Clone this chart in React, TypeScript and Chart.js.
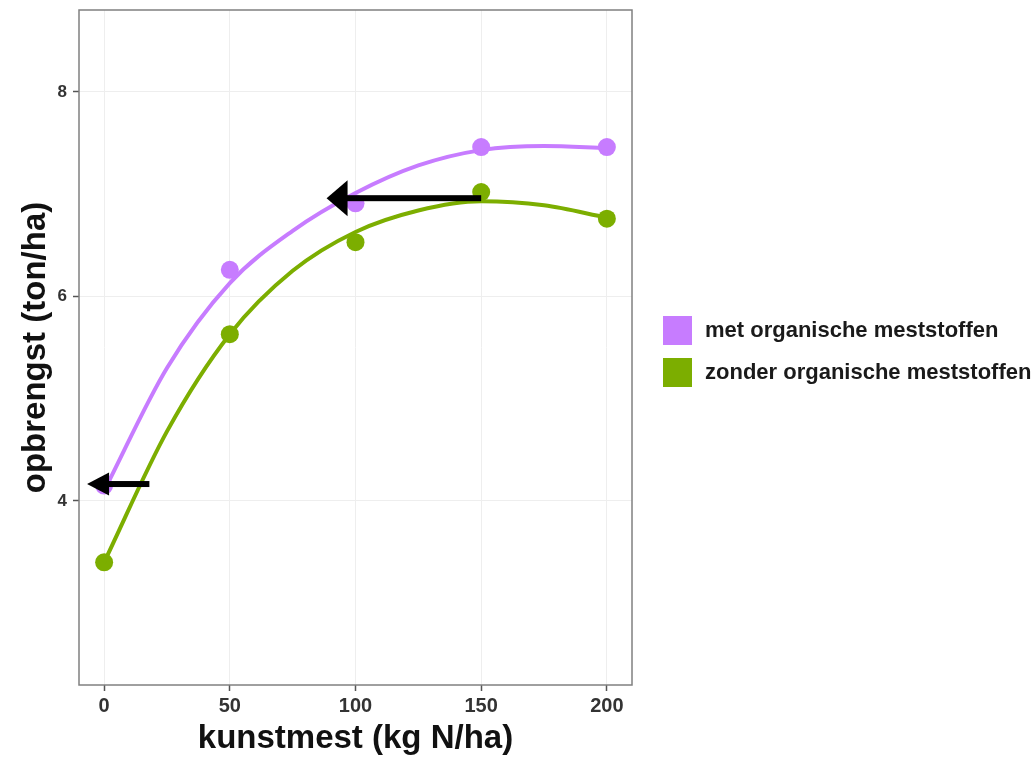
import React, { useEffect, useRef } from "react";
import { Chart, registerables } from "chart.js";

Chart.register(...registerables);

// Measured yields per nitrogen dose
const nitrogenLevels = [0, 50, 100, 150, 200];
const yieldWithOrganic = [4.15, 6.26, 6.91, 7.46, 7.46];
const yieldWithoutOrganic = [3.4, 5.63, 6.53, 7.02, 6.76];

// Smoothed trend lines
const curveX = [0, 25, 50, 75, 100, 125, 150, 175, 200];
const curveWithOrganic = [4.1, 5.3, 6.13, 6.64, 7.01, 7.28, 7.43, 7.47, 7.45];
const curveWithoutOrganic = [3.4, 4.68, 5.63, 6.25, 6.63, 6.84, 6.93, 6.89, 6.77];

// Axis ticks
const xTicks = [0, 50, 100, 150, 200];
const yTicks = [4, 6, 8];

// Annotation arrows (data units): horizontal arrows at a yield level
const arrowY = [6.96, 4.165];
const arrowFromX = [150, 18];
const arrowToX = [88.5, -6.8];

const seriesLabels = ["met organische meststoffen", "zonder organische meststoffen"];
const xTitle = "kunstmest (kg N/ha)";
const yTitle = "opbrengst (ton/ha)";

const PURPLE = "#C77CFF";
const GREEN = "#7CAE00";
const FONT = "'Liberation Sans', Arial, Helvetica, sans-serif";

const arrowHeads = [
  { len: 21, half: 18 },
  { len: 22, half: 11.5 },
];

const arrowPlugin = {
  id: "arrows",
  afterDatasetsDraw(chart: any) {
    const { ctx, scales } = chart;
    const x = scales.x;
    const y = scales.y;
    ctx.save();
    ctx.fillStyle = "#000000";
    arrowY.forEach((v, i) => {
      const py = y.getPixelForValue(v);
      const tail = x.getPixelForValue(arrowFromX[i]);
      const tip = x.getPixelForValue(arrowToX[i]);
      const { len, half } = arrowHeads[i];
      ctx.fillRect(tip + len - 1, py - 3, tail - (tip + len - 1), 6);
      ctx.beginPath();
      ctx.moveTo(tip, py);
      ctx.lineTo(tip + len, py - half);
      ctx.lineTo(tip + len, py + half);
      ctx.closePath();
      ctx.fill();
    });
    ctx.restore();
  },
};

const panelBorderPlugin = {
  id: "panelBorder",
  afterDraw(chart: any) {
    const { ctx, chartArea } = chart;
    ctx.save();
    ctx.strokeStyle = "#808080";
    ctx.lineWidth = 1.5;
    ctx.strokeRect(
      chartArea.left,
      chartArea.top,
      chartArea.right - chartArea.left,
      chartArea.bottom - chartArea.top
    );
    ctx.restore();
  },
};

export default function App() {
  const canvasRef = useRef<HTMLCanvasElement | null>(null);

  useEffect(() => {
    if (!canvasRef.current) return;
    const toPoints = (xs: number[], ys: number[]) => xs.map((v, i) => ({ x: v, y: ys[i] }));

    const chart = new Chart(canvasRef.current, {
      type: "scatter",
      data: {
        datasets: [
          {
            label: seriesLabels[0] + " trend",
            data: toPoints(curveX, curveWithOrganic),
            showLine: true,
            borderColor: PURPLE,
            borderWidth: 4,
            pointRadius: 0,
            tension: 0.4,
            cubicInterpolationMode: "monotone",
          },
          {
            label: seriesLabels[1] + " trend",
            data: toPoints(curveX, curveWithoutOrganic),
            showLine: true,
            borderColor: GREEN,
            borderWidth: 4,
            pointRadius: 0,
            tension: 0.4,
            cubicInterpolationMode: "monotone",
          },
          {
            label: seriesLabels[0],
            data: toPoints(nitrogenLevels, yieldWithOrganic),
            backgroundColor: PURPLE,
            borderWidth: 0,
            pointRadius: 9,
          },
          {
            label: seriesLabels[1],
            data: toPoints(nitrogenLevels, yieldWithoutOrganic),
            backgroundColor: GREEN,
            borderWidth: 0,
            pointRadius: 9,
          },
        ],
      } as any,
      options: {
        responsive: false,
        animation: false,
        layout: { padding: { top: 10, right: 404, left: 0, bottom: 0 } },
        plugins: {
          legend: { display: false },
          tooltip: { enabled: false },
        },
        scales: {
          x: {
            type: "linear",
            min: -10,
            max: 210,
            afterBuildTicks: (scale: any) => {
              scale.ticks = xTicks.map((v) => ({ value: v }));
            },
            afterFit: (scale: any) => {
              scale.height = 74;
              scale.paddingLeft = 0;
              scale.paddingRight = 0;
            },
            grid: {
              color: "#eeeeee",
              lineWidth: 1,
              drawTicks: true,
              tickLength: 6,
              tickColor: "#555555",
              tickWidth: 1.5,
            },
            border: { display: false },
            ticks: {
              padding: 3,
              color: "#333333",
              font: { family: FONT, size: 20, weight: "bold" },
            },
            title: {
              display: true,
              text: xTitle,
              color: "#111111",
              padding: { top: 0, bottom: 0 },
              font: { family: FONT, size: 33, weight: "bold" },
            },
          },
          y: {
            type: "linear",
            min: 2.2,
            max: 8.8,
            afterBuildTicks: (scale: any) => {
              scale.ticks = yTicks.map((v) => ({ value: v }));
            },
            afterFit: (scale: any) => {
              scale.width = 79;
              scale.paddingTop = 0;
              scale.paddingBottom = 0;
            },
            grid: {
              color: "#eeeeee",
              lineWidth: 1,
              drawTicks: true,
              tickLength: 6,
              tickColor: "#555555",
              tickWidth: 1.5,
            },
            border: { display: false },
            ticks: {
              padding: 6,
              color: "#333333",
              font: { family: FONT, size: 17, weight: "bold" },
            },
            title: {
              display: true,
              text: yTitle,
              color: "#111111",
              padding: { top: 16, bottom: 0 },
              font: { family: FONT, size: 33, weight: "bold" },
            },
          },
        },
      } as any,
      plugins: [arrowPlugin, panelBorderPlugin],
    });

    return () => chart.destroy();
  }, []);

  const legendColors = [PURPLE, GREEN];
  const legendTops = [315, 357];

  return (
    <div
      style={{
        position: "absolute",
        left: 0,
        top: 0,
        width: 1036,
        height: 759,
        overflow: "hidden",
        background: "#ffffff",
      }}
    >
      <canvas ref={canvasRef} width={1036} height={759} style={{ display: "block" }} />
      {seriesLabels.map((label, i) => (
        <div
          key={label}
          style={{
            position: "absolute",
            left: 663,
            top: legendTops[i],
            height: 30,
            display: "flex",
            alignItems: "center",
            whiteSpace: "nowrap",
          }}
        >
          <div style={{ width: 29, height: 29, background: legendColors[i] }} />
          <span
            style={{
              marginLeft: 13,
              fontFamily: FONT,
              fontWeight: "bold",
              fontSize: 22,
              color: "#1a1a1a",
            }}
          >
            {label}
          </span>
        </div>
      ))}
    </div>
  );
}
